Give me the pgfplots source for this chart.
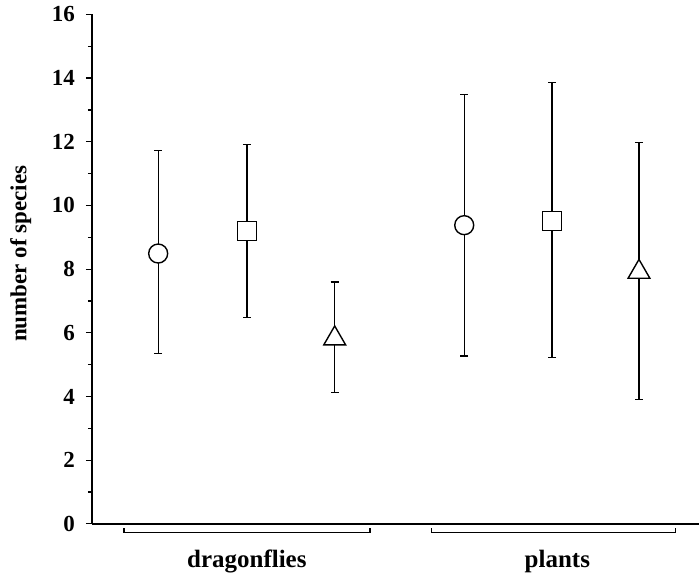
\documentclass[border=0pt]{standalone}
\usepackage{fontspec}
\setmainfont{Liberation Serif}
\usepackage{pgfplots}
\pgfplotsset{compat=1.18}
\usepackage{pgfplotstable}

% x y lo hi  (dragonflies, plants)
\pgfplotstableread{
x    y    lo   hi
1    8.49 5.36 11.73
4.45 9.38 5.27 13.48
}\circs
\pgfplotstableread{
x    y    lo   hi
2    9.19 6.48 11.91
5.44 9.52 5.22 13.86
}\squares
\pgfplotstableread{
x    y    lo   hi
2.99 5.82 4.13 7.60
6.42 7.91 3.91 11.98
}\tris

\pgfplotsset{
  errs/.style={only marks, mark=none,
    error bars/.cd, y dir=both, y explicit, error mark=|,
    error bar style={black, solid, line width=0.65pt},
    error mark options={black, solid, line width=0.65pt, mark size=2pt}},
  pt/.style={only marks, mark options={fill=white, draw=black, solid, line width=0.7pt}},
}

\begin{document}
\begin{tikzpicture}
\begin{axis}[
  name=ax,
  scale only axis, width=304pt, height=255pt,
  xmin=0.253, xmax=7.10, ymin=0, ymax=16,
  axis x line=bottom, axis y line=left,
  axis line style={-, line width=0.7pt},
  ytick={0,2,...,16}, minor ytick={1,3,...,15},
  tick align=outside, major tick length=3pt, minor tick length=2pt,
  tick style={black, line width=0.6pt},
  xtick={2,5.5}, xticklabels={dragonflies, plants},
  xtick style={draw=none},
  xticklabel style={font=\fontsize{12.5}{14}\selectfont\bfseries, yshift=-6.5pt},
  yticklabel style={font=\fontsize{11.5}{13}\selectfont\bfseries, xshift=-2pt},
  /pgf/number format/assume math mode=true,
  ylabel={number of species},
  ylabel style={font=\fontsize{11.5}{13}\selectfont\bfseries,
    at={(axis description cs:-0.117,0.53)}, anchor=center},
  clip=false,
]
\addplot[errs] table[x=x, y=y, y error plus expr=\thisrow{hi}-\thisrow{y},
  y error minus expr=\thisrow{y}-\thisrow{lo}] {\circs};
\addplot[errs] table[x=x, y=y, y error plus expr=\thisrow{hi}-\thisrow{y},
  y error minus expr=\thisrow{y}-\thisrow{lo}] {\squares};
\addplot[errs] table[x=x, y=y, y error plus expr=\thisrow{hi}-\thisrow{y},
  y error minus expr=\thisrow{y}-\thisrow{lo}] {\tris};
\addplot[pt, mark=*, mark size=4.75pt] table[x=x, y=y] {\circs};
\addplot[pt, mark=square*, mark size=4.75pt] table[x=x, y=y] {\squares};
\addplot[pt, mark=triangle*, mark size=6.3pt] table[x=x, y=y] {\tris};

% group brackets under the x axis
\draw[line width=0.7pt] (axis cs:0.614,-0.14) -- (axis cs:0.614,-0.28)
  -- (axis cs:3.386,-0.28) -- (axis cs:3.386,-0.14);
\draw[line width=0.7pt] (axis cs:4.08,-0.14) -- (axis cs:4.08,-0.28)
  -- (axis cs:6.83,-0.28) -- (axis cs:6.83,-0.14);
\end{axis}
\path ([xshift=-46pt,yshift=-22pt]ax.south west) rectangle ([yshift=7pt]ax.north east);
\end{tikzpicture}
\end{document}
